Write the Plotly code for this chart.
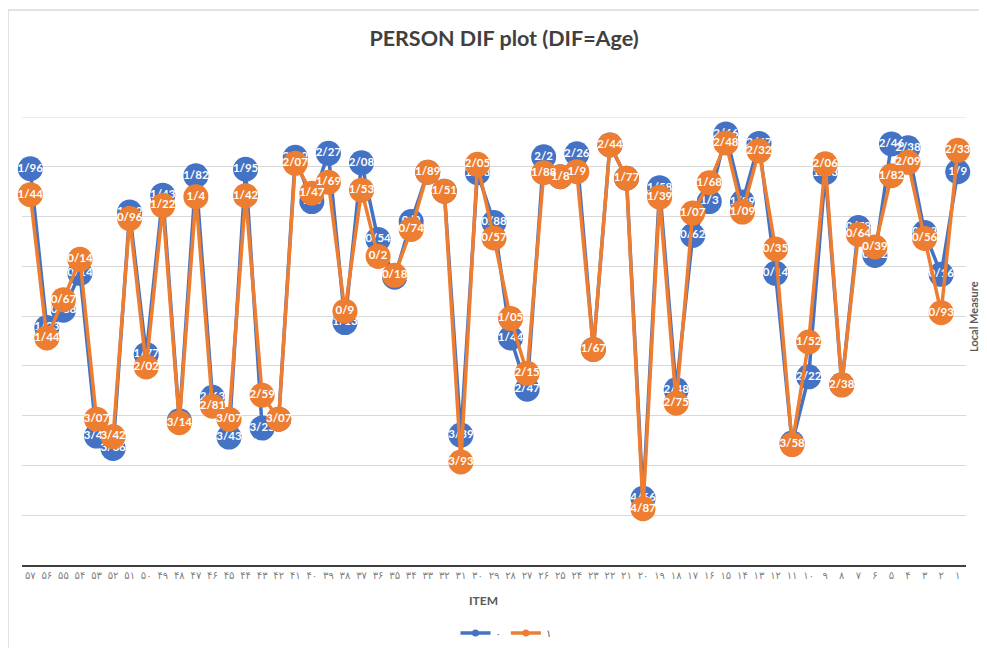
import plotly.graph_objects as go

# Item numbers, left to right (reversed axis in the original)
items = list(range(57, 0, -1))

persian_digits = "۰۱۲۳۴۵۶۷۸۹"
def to_persian(n):
    return "".join(persian_digits[int(c)] for c in str(n))

item_labels = [to_persian(i) for i in items]

# Group "0" (blue) values, items 57 -> 1
group0 = [1.96, -1.23, -0.88, -0.14, -3.41, -3.66, 1.09, -1.77, 1.43, -3.10,
          1.82, -2.63, -3.43, 1.95, -3.25, -3.07, 2.19, 1.30, 2.27, -1.13,
          2.08, 0.54, -0.22, 0.90, 1.89, 1.51, -3.39, 1.88, 0.88, -1.44,
          -2.47, 2.20, 1.80, 2.26, -1.67, 2.44, 1.77, -4.66, 1.58, -2.48,
          0.62, 1.30, 2.66, 1.29, 2.47, -0.14, -3.55, -2.22, 1.88, -2.38,
          0.78, 0.22, 2.46, 2.38, 0.68, -0.16, 1.90]

# Group "1" (orange) values, items 57 -> 1
group1 = [1.44, -1.44, -0.67, 0.14, -3.07, -3.42, 0.96, -2.02, 1.22, -3.14,
          1.40, -2.81, -3.07, 1.42, -2.59, -3.07, 2.07, 1.47, 1.69, -0.90,
          1.53, 0.20, -0.18, 0.74, 1.89, 1.51, -3.93, 2.05, 0.57, -1.05,
          -2.15, 1.88, 1.80, 1.90, -1.67, 2.44, 1.77, -4.87, 1.39, -2.75,
          1.07, 1.68, 2.48, 1.09, 2.32, 0.35, -3.58, -1.52, 2.06, -2.38,
          0.64, 0.39, 1.82, 2.09, 0.56, -0.93, 2.33]

series_names = ["۰", "۱"]
colors = ["#4472C4", "#ED7D31"]

def fmt(v):
    s = f"{abs(v):.2f}".rstrip("0").rstrip(".")
    return s.replace(".", "/")

FONT = "Lato, 'DejaVu Sans', sans-serif"

# The page body adds an 8px offset; figure coordinates are reference minus 8.
W, H = 979, 640
L, R, T, B = 14, 21, 109, 83
PW, PH = W - L - R, H - T - B

fig = go.Figure()
for name, vals, col in zip(series_names, [group0, group1], colors):
    fig.add_trace(go.Scatter(
        x=item_labels, y=vals, name=name,
        mode="lines+markers+text",
        line=dict(color=col, width=3.5),
        marker=dict(color=col, size=25, line=dict(width=0)),
        text=[fmt(v) for v in vals],
        textposition="middle center",
        textfont=dict(color="white", size=11.5, family=FONT, weight="bold"),
        showlegend=False,
        cliponaxis=False,
    ))
    fig.add_trace(go.Scatter(
        x=[None], y=[None], name=name, mode="lines+markers",
        line=dict(color=col, width=3.5),
        marker=dict(color=col, size=7),
        showlegend=True,
    ))

fig.update_layout(
    width=W, height=H,
    margin=dict(l=L, r=R, t=T, b=B, autoexpand=False),
    paper_bgcolor="white", plot_bgcolor="white",
    title=dict(text="<b>PERSON DIF plot (DIF=Age)</b>", x=(504 - 8) / W, xanchor="center",
               y=1 - 30 / H, yanchor="middle", yref="container",
               font=dict(family=FONT, size=21.5, color="#404040")),
    font=dict(family=FONT),
    xaxis=dict(
        type="category",
        range=[-0.5, len(items) - 0.5],
        autorange=False, automargin=False,
        showgrid=False,
        showline=True, linecolor="#404040", linewidth=2,
        ticks="", tickfont=dict(size=10, color="#7F7F7F", family="'DejaVu Sans', sans-serif"),
        tickangle=0,
    ),
    yaxis=dict(
        range=[-6, 3], dtick=1, showgrid=True, gridcolor="#D9D9D9", gridwidth=1,
        zeroline=False, showticklabels=False, ticks="", showline=False, automargin=False,
    ),
    legend=dict(orientation="h", x=(506 - 8 - L) / PW, xanchor="center", y=(T + PH - 625) / PH,
                yanchor="middle", font=dict(size=10, color="#595959"), itemwidth=30,
                bgcolor="rgba(0,0,0,0)"),
    annotations=[
        dict(text="<b>Local Measure</b>", xref="paper", yref="paper",
             x=(965 - L) / PW, y=(T + PH - 308) / PH, showarrow=False, textangle=-90,
             font=dict(size=11, color="#595959", family=FONT), xanchor="center", yanchor="middle"),
        dict(text="<b>ITEM</b>", xref="paper", yref="paper",
             x=(483 - 8 - L) / PW, y=(T + PH - 592) / PH, showarrow=False,
             font=dict(size=12, color="#595959", family=FONT), xanchor="center", yanchor="middle"),
    ],
    shapes=[
        dict(type="line", xref="paper", yref="y", x0=0, x1=1, y0=3, y1=3,
             line=dict(color="#D9D9D9", width=1), layer="below"),
        dict(type="rect", xref="paper", yref="paper",
             x0=(0 - L) / PW, x1=1.05, y0=-0.3, y1=(T + PH - 2) / PH,
             line=dict(color="#D9D9D9", width=1.5), fillcolor="rgba(0,0,0,0)", layer="below"),
    ],
)

fig.write_html("out.html")
